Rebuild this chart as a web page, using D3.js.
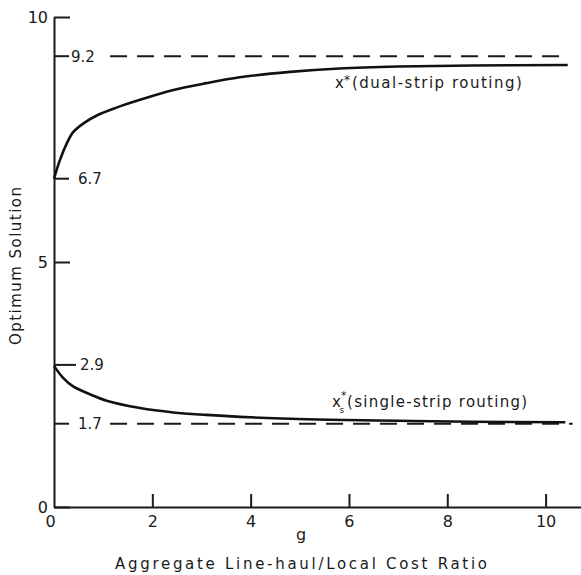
<!DOCTYPE html>
<html>
<head>
<meta charset="utf-8">
<script src="https://cdn.jsdelivr.net/npm/d3@7"></script>
<style>
  body { margin: 0; background: #fff; }
  text { font-family: "DejaVu Sans", sans-serif; fill: #1a1a1a; }
</style>
</head>
<body>
<div class="chart"></div>
<script>
// g values
const gDual = [0, 0.12, 0.26, 0.39, 0.6, 0.87, 1.27, 1.75, 2.43, 3.1, 3.78, 4.8, 5.8, 7, 8.5, 10.45];
const xDual = [6.7, 7.08, 7.42, 7.65, 7.83, 7.99, 8.15, 8.31, 8.51, 8.65, 8.77, 8.88, 8.95, 8.99, 9.01, 9.02];

const gSingle = [0, 0.19, 0.39, 0.73, 1.07, 1.75, 2.43, 3.1, 3.78, 4.8, 5.6, 7, 8.5, 10.4];
const xSingle = [2.88, 2.63, 2.46, 2.3, 2.17, 2.02, 1.93, 1.88, 1.84, 1.8, 1.78, 1.76, 1.74, 1.73];

const asymptotes = [9.2, 1.7];
const startValues = [6.7, 2.9];
const xTicks = [0, 2, 4, 6, 8, 10];
const yTicks = [0, 5, 10];

const width = 581, height = 575;
const margin = {top: 17, left: 54, right: 0, bottom: 68};

const svg = d3.select(".chart")
    .append("svg")
    .attr("width", width)
    .attr("height", height);

const x = d3.scaleLinear()
    .domain([0, 10.72])
    .range([margin.left, width - margin.right]);

const y = d3.scaleLinear()
    .domain([0, 10])
    .range([height - margin.bottom, margin.top]);

// axes, ticks pointing inward
const xAxis = d3.axisBottom(x)
    .tickValues(xTicks)
    .tickSizeInner(-13)
    .tickSizeOuter(0)
    .tickPadding(9)
    .tickFormat(d3.format("d"));

const yAxis = d3.axisLeft(y)
    .tickValues(yTicks)
    .tickSizeInner(-16)
    .tickSizeOuter(0)
    .tickPadding(6);

const gx = svg.append("g")
    .attr("transform", `translate(0,${y(0)})`)
    .call(xAxis);

const gy = svg.append("g")
    .attr("transform", `translate(${x(0)},0)`)
    .call(yAxis);

[gx, gy].forEach(g => {
    g.select(".domain").attr("stroke", "#1a1a1a").attr("stroke-width", 2);
    g.selectAll(".tick line").attr("stroke", "#1a1a1a").attr("stroke-width", 2);
    g.selectAll(".tick text")
        .attr("font-size", 16)
        .attr("font-family", "DejaVu Sans, sans-serif")
        .attr("fill", "#1a1a1a");
});
gx.selectAll(".tick").filter(d => d === 0).select("line").remove();
gx.selectAll(".tick").filter(d => d === 0).select("text").attr("dx", -4);

// labelled value ticks on the y axis
const marks = asymptotes.concat(startValues);
const markG = svg.append("g");
markG.selectAll("line")
    .data(marks)
    .join("line")
    .attr("x1", x(0))
    .attr("x2", d => x(0) + (d === 2.9 ? 22 : 15))
    .attr("y1", d => y(d))
    .attr("y2", d => y(d))
    .attr("stroke", "#1a1a1a")
    .attr("stroke-width", 2);
markG.selectAll("text")
    .data(marks)
    .join("text")
    .attr("x", d => x(0) + (d === 2.9 ? 26 : (d === 9.2 ? 17 : 24)))
    .attr("y", d => y(d))
    .attr("dy", "0.36em")
    .attr("font-size", 15)
    .text(d => d3.format(".1f")(d));

// dashed asymptotes
svg.append("g")
    .selectAll("line")
    .data(asymptotes)
    .join("line")
    .attr("x1", x(1.14))
    .attr("x2", d => d === 9.2 ? x(10.32) : x(10.55))
    .attr("y1", d => y(d))
    .attr("y2", d => y(d))
    .attr("stroke", "#1a1a1a")
    .attr("stroke-width", 2)
    .attr("stroke-dasharray", "17,10");

// curves
const line = d3.line()
    .x(d => x(d[0]))
    .y(d => y(d[1]))
    .curve(d3.curveCatmullRom.alpha(0.5));

const series = [
    d3.zip(gDual, xDual),
    d3.zip(gSingle, xSingle)
];

svg.append("g")
    .selectAll("path")
    .data(series)
    .join("path")
    .attr("d", line)
    .attr("fill", "none")
    .attr("stroke", "#111")
    .attr("stroke-width", 2.6);

// curve labels
const dualLabel = svg.append("text")
    .attr("x", 335)
    .attr("y", 88)
    .attr("font-size", 15);
dualLabel.append("tspan").text("x");
dualLabel.append("tspan").attr("font-size", 12).attr("dy", -4).text("*");
dualLabel.append("tspan").attr("dy", 4).attr("dx", 2)
    .attr("textLength", 170).attr("lengthAdjust", "spacing")
    .text("(dual-strip routing)");

const singleLabel = svg.append("text")
    .attr("x", 332)
    .attr("y", 407)
    .attr("font-size", 15);
singleLabel.append("tspan").text("x");
singleLabel.append("tspan").attr("font-size", 11).attr("dy", -8).text("*");
singleLabel.append("tspan").attr("font-size", 9).attr("dx", -7).attr("dy", 14).text("s");
singleLabel.append("tspan").attr("dy", -6).attr("dx", 3)
    .attr("textLength", 180).attr("lengthAdjust", "spacing")
    .text("(single-strip routing)");

// axis titles
svg.append("text")
    .attr("x", 301)
    .attr("y", 540)
    .attr("text-anchor", "middle")
    .attr("font-size", 16)
    .text("g");

svg.append("text")
    .attr("x", 115)
    .attr("y", 569)
    .attr("font-size", 15)
    .attr("textLength", 372)
    .attr("lengthAdjust", "spacing")
    .text("Aggregate Line-haul/Local Cost Ratio");

svg.append("text")
    .attr("transform", "translate(21,345) rotate(-90)")
    .attr("font-size", 15)
    .attr("textLength", 158)
    .attr("lengthAdjust", "spacing")
    .text("Optimum Solution");
</script>
</body>
</html>
